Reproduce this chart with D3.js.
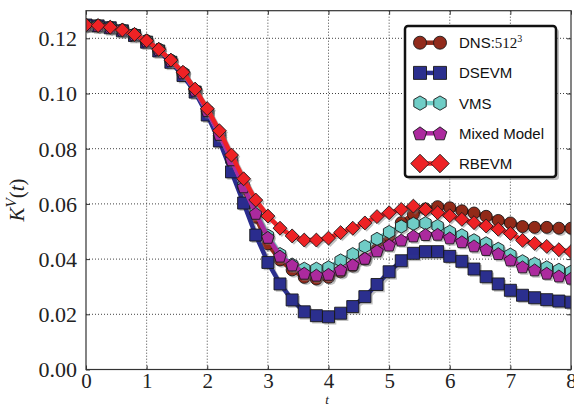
<!DOCTYPE html>
<html>
<head>
<meta charset="utf-8">
<script src="https://cdn.jsdelivr.net/npm/d3@7"></script>
<style>
  html, body { margin: 0; padding: 0; background: #fff; }
  svg { display: block; }
</style>
</head>
<body>
<svg id="chart" width="574" height="406"></svg>
<script>
// ---- data ----
const tValues = d3.range(41).map(i => +(i * 0.2).toFixed(1));
const xTicks = [0, 1, 2, 3, 4, 5, 6, 7, 8];
const yTicks = [0.00, 0.02, 0.04, 0.06, 0.08, 0.10, 0.12];
const seriesNames = ["DNS:", "DSEVM", "VMS", "Mixed Model", "RBEVM"];

const dns = [0.1248,0.1246,0.1240,0.1230,0.1214,0.1191,0.1160,0.1120,0.1074,
  0.1010,0.0935,0.0848,0.0755,0.0655,0.0552,0.0455,0.0397,0.0361,0.0334,0.0328,
  0.0334,0.0354,0.0375,0.0400,0.0435,0.0483,0.0532,0.0563,0.0582,0.0590,
  0.0586,0.0575,0.0567,0.0555,0.0540,0.0531,0.0518,0.0515,0.0515,0.0512,0.0512];
const dsevm = [0.1248,0.1245,0.1238,0.1227,0.1210,0.1186,0.1154,0.1113,0.1065,
  0.1005,0.0922,0.0828,0.0716,0.0603,0.0487,0.0388,0.0310,0.0252,0.0209,0.0195,
  0.0191,0.0204,0.0228,0.0264,0.0308,0.0354,0.0394,0.0421,0.0427,0.0427,
  0.0410,0.0392,0.0364,0.0336,0.0310,0.0287,0.0269,0.0260,0.0253,0.0248,0.0244];
const vms = [0.1248,0.1246,0.1240,0.1230,0.1214,0.1191,0.1160,0.1120,0.1075,
  0.1012,0.0938,0.0852,0.0762,0.0666,0.0572,0.0485,0.0418,0.0380,0.0365,0.0365,
  0.0370,0.0395,0.0418,0.0446,0.0473,0.0498,0.0518,0.0528,0.0530,0.0520,
  0.0499,0.0486,0.0468,0.0457,0.0437,0.0416,0.0392,0.0383,0.0370,0.0361,0.0354];
const mixed = [0.1248,0.1246,0.1240,0.1230,0.1214,0.1191,0.1160,0.1120,0.1075,
  0.1012,0.0938,0.0852,0.0760,0.0662,0.0566,0.0479,0.0411,0.0379,0.0349,0.0342,
  0.0345,0.0361,0.0380,0.0403,0.0430,0.0451,0.0469,0.0484,0.0489,0.0490,
  0.0477,0.0463,0.0448,0.0435,0.0420,0.0397,0.0372,0.0361,0.0349,0.0339,0.0331];
const rbevm = [0.1248,0.1246,0.1240,0.1230,0.1214,0.1191,0.1160,0.1121,0.1077,
  0.1016,0.0945,0.0865,0.0777,0.0691,0.0614,0.0556,0.0512,0.0484,0.0469,0.0469,
  0.0476,0.0496,0.0512,0.0531,0.0554,0.0568,0.0580,0.0592,0.0580,0.0568,
  0.0557,0.0544,0.0532,0.0520,0.0508,0.0493,0.0468,0.0457,0.0446,0.0434,0.0427];

const seriesValues = [dns, dsevm, vms, mixed, rbevm];
const seriesColors = ["#922b1c", "#2b2f8e", "#6fcdc6", "#ac2a9e", "#ee2225"];
const seriesMarkers = ["circle", "square", "hexagon", "pentagon", "diamond"];

// ---- layout ----
const svg = d3.select("#chart");
const pLeft = 86, pRight = 571, pTop = 10.7, pBottom = 369.5;
const x = d3.scaleLinear().domain([0, 8]).range([pLeft, pRight]);
const y = d3.scaleLinear().domain([0, 0.13]).range([pBottom, pTop]);

function markerPath(type, s) {
  const p = d3.path();
  if (type === "circle") {
    p.arc(0, 0, s * 0.5, 0, 2 * Math.PI);
  } else if (type === "square") {
    const h = s * 0.5;
    p.rect(-h, -h, 2 * h, 2 * h);
  } else if (type === "diamond") {
    const h = s * 0.58;
    p.moveTo(0, -h); p.lineTo(h, 0); p.lineTo(0, h); p.lineTo(-h, 0); p.closePath();
  } else if (type === "pentagon") {
    const r = s * 0.55;
    for (let i = 0; i < 5; i++) {
      const a = -Math.PI / 2 + i * 2 * Math.PI / 5;
      const px = r * Math.cos(a), py = r * Math.sin(a) + r * 0.1;
      if (i === 0) p.moveTo(px, py); else p.lineTo(px, py);
    }
    p.closePath();
  } else if (type === "hexagon") {
    const r = s * 0.55;
    for (let i = 0; i < 6; i++) {
      const a = -Math.PI / 2 + i * Math.PI / 3;
      const px = r * Math.cos(a), py = r * Math.sin(a);
      if (i === 0) p.moveTo(px, py); else p.lineTo(px, py);
    }
    p.closePath();
  }
  return p.toString();
}

// grid
const grid = svg.append("g");
xTicks.filter(t => t > 0 && t < 8).forEach(t => {
  grid.append("line").attr("x1", x(t)).attr("x2", x(t)).attr("y1", pTop).attr("y2", pBottom)
    .attr("stroke", "#444").attr("stroke-width", 1).attr("stroke-dasharray", "1,2");
});
yTicks.filter(v => v > 0).forEach(v => {
  grid.append("line").attr("x1", pLeft).attr("x2", pRight).attr("y1", y(v)).attr("y2", y(v))
    .attr("stroke", "#444").attr("stroke-width", 1).attr("stroke-dasharray", "1,2");
});

// clip
svg.append("clipPath").attr("id", "clip").append("rect")
  .attr("x", pLeft).attr("y", pTop).attr("width", pRight - pLeft).attr("height", pBottom - pTop);

const plot = svg.append("g").attr("clip-path", "url(#clip)");
const line = d3.line().x((d, i) => x(tValues[i])).y(d => y(d));

seriesValues.forEach((vals, k) => {
  const g = plot.append("g");
  const sh = g.append("g").attr("transform", "translate(1.8,1.8)").attr("opacity", 0.45);
  sh.append("path").attr("d", line(vals)).attr("fill", "none").attr("stroke", "#777").attr("stroke-width", 4.5);
  sh.selectAll("path.m").data(vals).enter().append("path").attr("class", "m")
    .attr("transform", (d, i) => `translate(${x(tValues[i])},${y(d)})`)
    .attr("d", markerPath(seriesMarkers[k], 12)).attr("fill", "#777");
  g.append("path").attr("d", line(vals)).attr("fill", "none")
    .attr("stroke", seriesColors[k]).attr("stroke-width", 4.5).attr("stroke-linejoin", "round");
  g.selectAll("path.mk").data(vals).enter().append("path").attr("class", "mk")
    .attr("transform", (d, i) => `translate(${x(tValues[i])},${y(d)})`)
    .attr("d", markerPath(seriesMarkers[k], 12))
    .attr("fill", seriesColors[k]).attr("stroke", "#1a1a1a").attr("stroke-width", 0.9);
});

// frame
svg.append("rect").attr("x", pLeft).attr("y", pTop).attr("width", pRight - pLeft).attr("height", pBottom - pTop)
  .attr("fill", "none").attr("stroke", "#333").attr("stroke-width", 1.2);

// axes (ticks inward)
const xAxisB = svg.append("g").attr("transform", `translate(0,${pBottom})`)
  .call(d3.axisBottom(x).tickValues(xTicks).tickSize(-4).tickPadding(4).tickFormat(d3.format("d")));
const xAxisT = svg.append("g").attr("transform", `translate(0,${pTop})`)
  .call(d3.axisTop(x).tickValues(xTicks).tickSize(-4).tickFormat(""));
const yAxisL = svg.append("g").attr("transform", `translate(${pLeft},0)`)
  .call(d3.axisLeft(y).tickValues(yTicks).tickSize(-4).tickPadding(9).tickFormat(d3.format(".2f")));
const yAxisR = svg.append("g").attr("transform", `translate(${pRight},0)`)
  .call(d3.axisRight(y).tickValues(yTicks).tickSize(-4).tickFormat(""));
[xAxisB, xAxisT, yAxisL, yAxisR].forEach(a => {
  a.select(".domain").remove();
  a.selectAll(".tick line").attr("stroke", "#333").attr("stroke-width", 1);
  a.selectAll("text").attr("font-family", "'Liberation Serif', 'DejaVu Serif', serif")
    .attr("font-size", 21).attr("fill", "#222");
});
yAxisL.selectAll("text").attr("font-size", 22).attr("dy", "0.34em");
xAxisB.selectAll("text").attr("dy", "0.71em");

// axis labels
svg.append("text").attr("x", 327).attr("y", 404).attr("text-anchor", "middle")
  .attr("font-family", "'Liberation Serif', serif").attr("font-style", "italic")
  .attr("font-size", 13).attr("fill", "#222").text("t");

const yl = svg.append("text").attr("transform", "translate(24,200) rotate(-90)")
  .attr("text-anchor", "middle").attr("font-family", "'Liberation Serif', serif")
  .attr("font-size", 21).attr("fill", "#222");
yl.append("tspan").attr("font-style", "italic").text("K");
yl.append("tspan").attr("font-style", "italic").attr("font-size", 15).attr("dy", -8).text("V");
yl.append("tspan").attr("dy", 8).text("(");
yl.append("tspan").attr("font-style", "italic").text("t");
yl.append("tspan").text(")");

// legend
const lg = svg.append("g");
const lx = 405, ly = 26, lw = 151, lh = 151;
lg.append("rect").attr("x", lx + 3).attr("y", ly + 3).attr("width", lw).attr("height", lh)
  .attr("rx", 3).attr("fill", "#999").attr("opacity", 0.6);
lg.append("rect").attr("x", lx).attr("y", ly).attr("width", lw).attr("height", lh)
  .attr("rx", 3).attr("fill", "#fff").attr("stroke", "#111").attr("stroke-width", 2.5);
seriesNames.forEach((name, k) => {
  const cy = 42.7 + k * 30.2;
  lg.append("line").attr("x1", 420).attr("x2", 440).attr("y1", cy).attr("y2", cy)
    .attr("stroke", seriesColors[k]).attr("stroke-width", 4.5);
  [420, 440].forEach(mx => {
    lg.append("path").attr("transform", `translate(${mx},${cy})`)
      .attr("d", markerPath(seriesMarkers[k], k === 4 ? 16 : 13))
      .attr("fill", seriesColors[k]).attr("stroke", "#1a1a1a").attr("stroke-width", 0.9);
  });
  const tx = lg.append("text").attr("x", 459).attr("y", cy + 5.5)
    .attr("font-family", "'Liberation Sans', Arial, sans-serif").attr("font-size", 15).attr("fill", "#111");
  tx.append("tspan").text(name);
  if (k === 0) {
    tx.append("tspan").attr("font-family", "'Liberation Serif', serif").attr("font-size", 15).text("512");
    tx.append("tspan").attr("font-family", "'Liberation Serif', serif").attr("font-size", 10).attr("dy", -6).text("3");
  }
});
</script>
</body>
</html>
